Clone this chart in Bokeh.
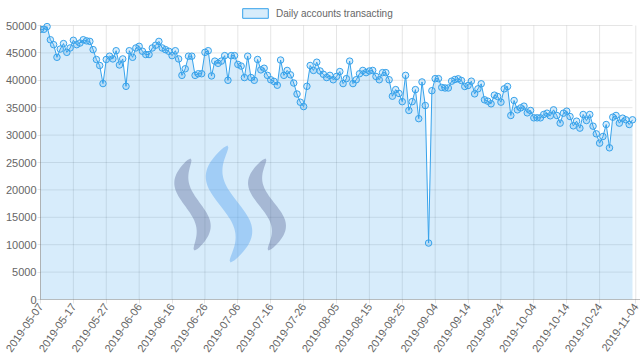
import numpy as np
import pandas as pd
from bokeh.plotting import figure
from bokeh.models import (Range1d, FixedTicker, DatetimeTickFormatter, Legend, LegendItem,
                          ColumnDataSource)
from bokeh.embed import file_html
from bokeh.resources import INLINE

# ---------------- data ----------------
series_name = "Daily accounts transacting"
start_date = "2019-05-07"
daily_accounts = [
    49300, 49300, 49800, 47400, 46500, 44200, 45700, 46700, 45100, 45900,
    47300, 46500, 46800, 47400, 47200, 47100, 45600, 43800, 42700, 39400,
    43800, 44400, 43900, 45400, 42800, 43900, 38900, 45400, 44200, 45900,
    46200, 45300, 44700, 44700, 45900, 46400, 47100, 45900, 45600, 45300,
    44500, 45400, 43900, 40900, 42100, 44400, 44400, 40900, 41200, 41200,
    45100, 45400, 40800, 43500, 43100, 43500, 44500, 40000, 44500, 44500,
    42900, 42600, 40500, 44400, 40500, 40000, 43800, 41900, 42200, 40900,
    40100, 39800, 39100, 43700, 40900, 41800, 41000, 39500, 37500, 36000,
    35200, 38900, 42700, 41800, 43300, 41700, 41100, 40500, 40900, 40100,
    40700, 41600, 39400, 40300, 43500, 39400, 40100, 41200, 41800, 41400,
    41700, 41800, 40700, 40100, 41400, 41400, 40100, 37100, 38300, 37600,
    36100, 40900, 34500, 36100, 38300, 33000, 39700, 35400, 10300, 38100,
    40300, 40300, 38700, 38600, 38600, 39840, 40150, 40270, 39960, 38870,
    39050, 39840, 37530, 38440, 39360, 36440, 36190, 35710, 37290, 37040,
    36010, 38440, 38870, 33580, 36310, 34610, 34970, 35280, 34060, 34490,
    33150, 33150, 33150, 33760, 34000, 33520, 34610, 33580, 32180, 34000,
    34370, 33390, 31690, 32540, 31270, 33760, 32660, 33760, 31630, 30230,
    28530, 29740, 31930, 27680, 33270, 33580, 32180, 33090, 32790, 31930,
    32790,
]
x_tick_labels = ["2019-05-07", "2019-05-17", "2019-05-27", "2019-06-06", "2019-06-16",
                 "2019-06-26", "2019-07-06", "2019-07-16", "2019-07-26", "2019-08-05",
                 "2019-08-15", "2019-08-25", "2019-09-04", "2019-09-14", "2019-09-24",
                 "2019-10-04", "2019-10-14", "2019-10-24", "2019-11-04"]
y_ticks = [0, 5000, 10000, 15000, 20000, 25000, 30000, 35000, 40000, 45000, 50000]

dates = pd.date_range(start=start_date, periods=len(daily_accounts), freq="D")
src = ColumnDataSource(dict(date=dates, value=daily_accounts, zero=[0] * len(daily_accounts)))
tick_dates = pd.to_datetime(x_tick_labels)
tick_ms = [int(t.value // 10**6) for t in tick_dates]

BLUE = "#36a2eb"
GRID = "rgba(0,0,0,0.1)"
ZERO = "rgba(0,0,0,0.25)"
TXT = "#666666"
FONT = "Liberation Sans"

# frame spans page y 0..299; the 50000 line sits 25px below the frame top
FRAME_H = 299
y_top = y_ticks[-1] * FRAME_H / (FRAME_H - 25)
# frame spans page x 40..640; the last date sits 8px inside the right edge
x_end = dates[-1] + (dates[-1] - dates[0]) * (8 / 592)

p = figure(width=640, height=361, x_axis_type="datetime", output_backend="svg",
           toolbar_location=None,
           x_range=Range1d(dates[0], x_end), y_range=Range1d(y_ticks[0], y_top),
           min_border_left=40, min_border_right=0, min_border_top=0, min_border_bottom=62)
p.outline_line_color = None
p.background_fill_color = "white"
p.border_fill_color = "white"

# axes
fmt = "%Y-%m-%d"
xa = p.xaxis[0]
xa.ticker = FixedTicker(ticks=tick_ms)
xa.formatter = DatetimeTickFormatter(days=fmt, months=fmt, years=fmt, hours=fmt,
                                     milliseconds=fmt, seconds=fmt, minsec=fmt,
                                     minutes=fmt, hourmin=fmt)
xa.major_label_orientation = np.radians(55)
xa.major_label_text_font_size = "11px"
xa.major_label_text_color = TXT
xa.major_label_text_font = FONT
xa.major_label_standoff = 1
xa.major_tick_out = 4
xa.major_tick_in = 0
xa.major_tick_line_color = GRID
xa.minor_tick_line_color = None
xa.axis_line_color = ZERO

ya = p.yaxis[0]
ya.ticker = FixedTicker(ticks=y_ticks)
ya.bounds = (y_ticks[0], y_ticks[-1])
ya.major_label_text_font_size = "11px"
ya.major_label_text_color = TXT
ya.major_label_text_font = FONT
ya.major_label_standoff = 1
ya.major_tick_out = 3
ya.major_tick_in = 0
ya.major_tick_line_color = GRID
ya.minor_tick_line_color = None
ya.axis_line_color = ZERO

# grid lines limited to the data box (first..last date, 0..50000)
p.xgrid.visible = False
p.ygrid.visible = False
p.segment(x0=tick_dates, y0=[y_ticks[0]] * len(tick_dates), x1=tick_dates,
          y1=[y_ticks[-1]] * len(tick_dates), line_color=GRID, line_width=1)
p.segment(x0=[dates[0]] * len(y_ticks[1:]), y0=y_ticks[1:],
          x1=[dates[-1]] * len(y_ticks[1:]), y1=y_ticks[1:], line_color=GRID, line_width=1)

# area
p.varea(x="date", y1="zero", y2="value", source=src, fill_color=BLUE, fill_alpha=0.2)

# watermark logo (three S strokes) in pixel-like coordinates
p.extra_x_ranges = {"px": Range1d(40, 640)}
p.extra_y_ranges = {"py": Range1d(299, 0)}


def stroke(xt, yt, xb, yb, amp, half_w, n=60):
    t = np.linspace(0, 1, n)
    y = yt + (yb - yt) * t
    xc = xt + (xb - xt) * t - amp * np.sin(2 * np.pi * t)
    w = half_w * np.sin(np.pi * t) ** 0.5
    return list(np.concatenate([xc - w, (xc + w)[::-1]])), list(np.concatenate([y, y[::-1]]))


lx, ly = stroke(190, 158, 194, 250, 10, 8.5)
mx, my = stroke(227, 145, 230, 262, 14, 10)
rx, ry = stroke(265, 158, 268, 250, 11, 8.5)
p.patches(xs=[lx, rx], ys=[ly, ry], x_range_name="px", y_range_name="py",
          fill_color="#4b5a8c", fill_alpha=0.35, line_color=None)
p.patch(x=mx, y=my, x_range_name="px", y_range_name="py",
        fill_color="#50a0f0", fill_alpha=0.4, line_color=None)

# line + points
p.line(x="date", y="value", source=src, line_color=BLUE, line_width=1)
p.scatter(x="date", y="value", source=src, size=6.5, line_color=BLUE, line_width=1,
          fill_color=BLUE, fill_alpha=0.2)

# legend (swatch renderer has no drawable coordinates; only its style is used)
nan = float("nan")
swatch = p.quad(left=[nan], right=[nan], top=[nan], bottom=[nan], fill_color=BLUE,
                fill_alpha=0.2, line_color=BLUE, line_width=1)
legend = Legend(items=[LegendItem(label=series_name, renderers=[swatch], index=0)],
                location=(199, 280), orientation="horizontal",
                glyph_width=32, glyph_height=12, label_height=12,
                label_text_font_size="10px", label_text_color=TXT, label_text_font=FONT,
                padding=2, margin=0, spacing=0, label_standoff=5,
                border_line_color=None, background_fill_alpha=0)
p.add_layout(legend, "center")

open("out.html", "w").write(file_html(p, INLINE))
